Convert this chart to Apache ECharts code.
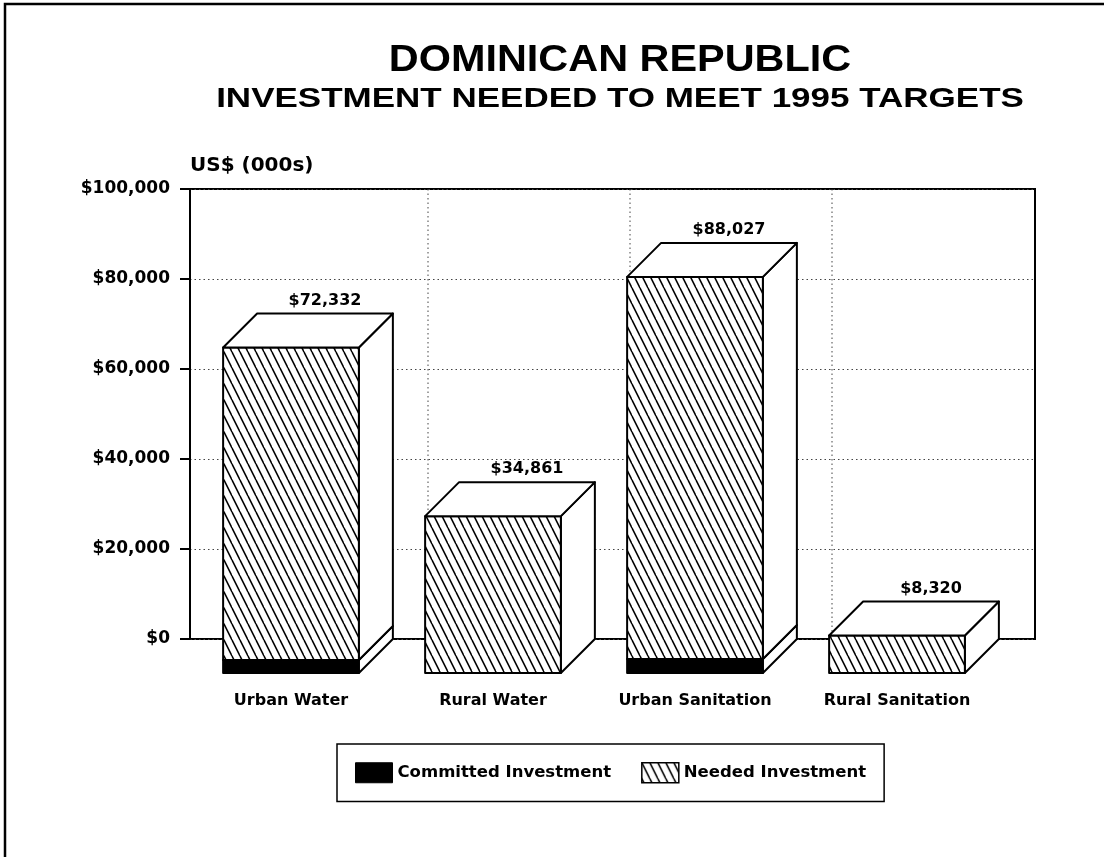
<!DOCTYPE html>
<html>
<head>
<meta charset="utf-8">
<script src="https://cdn.jsdelivr.net/npm/echarts@6/dist/echarts.min.js"></script>
<style>html,body{margin:0;padding:0;background:#fff;}#c{width:1104px;height:857px;}</style>
</head>
<body>
<div id="c"></div>
<script>
const categories = ['Urban Water', 'Rural Water', 'Urban Sanitation', 'Rural Sanitation'];
const committed = [2900, 0, 3100, 0];
const needed = [69432, 34861, 84927, 8320];
const yTicks = [0, 20000, 40000, 60000, 80000, 100000];

const DX = 34, DY = 34, DXG = 36;
const FONT = '"DejaVu Sans", sans-serif';

// hatch pattern "\\\"
const pc = document.createElement('canvas');
pc.width = 8; pc.height = 16;
const g = pc.getContext('2d');
g.fillStyle = '#fff'; g.fillRect(0, 0, 8, 16);
g.strokeStyle = '#000'; g.lineWidth = 1.6;
[-8, 0, 8].forEach(o => { g.beginPath(); g.moveTo(o, 0); g.lineTo(o + 8, 16); g.stroke(); });
const hatch = { image: pc, repeat: 'repeat' };

const fmt = v => '$' + Number(v).toLocaleString('en-US');

function boxRender(kind) {
  return function (params, api) {
    const i = api.value(0), base = api.value(1), val = api.value(2);
    if (!val) return { type: 'group', children: [] };
    const top = base + val;
    const c0 = api.coord([i, base]);
    const c1 = api.coord([i, top]);
    const bw = api.size([1, 0])[0];
    const hw = bw * 0.336;
    const x0 = c0[0] - hw, x1 = c0[0] + hw;
    const yb = c0[1] + DY, yt = c1[1] + DY;
    const edge = { stroke: '#000', lineWidth: 2, lineJoin: 'round' };
    const ch = [];
    ch.push({ type: 'polygon', shape: { points: [[x1, yt], [x1 + DX, yt - DY], [x1 + DX, yb - DY], [x1, yb]] },
      style: Object.assign({ fill: '#fff' }, edge) });
    ch.push({ type: 'rect', shape: { x: x0, y: yt, width: x1 - x0, height: yb - yt },
      style: Object.assign({ fill: kind === 'needed' ? hatch : '#000' }, edge) });
    if (kind === 'needed') {
      ch.push({ type: 'polygon', shape: { points: [[x0, yt], [x0 + DX, yt - DY], [x1 + DX, yt - DY], [x1, yt]] },
        style: Object.assign({ fill: '#fff' }, edge) });
      ch.push({ type: 'text', x: c0[0] + DX, y: c1[1] - 5,
        style: { text: fmt(top), font: 'bold 16px ' + FONT, align: 'center', verticalAlign: 'bottom', fill: '#000' } });
    }
    return { type: 'group', children: ch };
  };
}

function gridRender(params, api) {
  const i = api.value(0);
  if (i < 1) return { type: 'group', children: [] };
  const cTop = api.coord([i, yTicks[yTicks.length - 1]]);
  const cBot = api.coord([i, yTicks[0]]);
  const bw = api.size([1, 0])[0];
  const x = cTop[0] - bw / 2 + DXG;
  return { type: 'line', shape: { x1: x, y1: cTop[1], x2: x, y2: cBot[1] },
    style: { stroke: '#444', lineWidth: 1, lineDash: [1.5, 3] } };
}

const chart = echarts.init(document.getElementById('c'), null, { renderer: 'canvas' });
chart.setOption({
  backgroundColor: '#fff',
  animation: false,
  graphic: [
    { type: 'rect', shape: { x: 5, y: 4, width: 1300, height: 1000 }, style: { fill: 'none', stroke: '#000', lineWidth: 2.5 }, silent: true },
    { type: 'text', x: 620, y: 61, scaleX: 1.15,
      style: { text: 'DOMINICAN REPUBLIC', font: 'bold 36px "Liberation Sans", Arial, sans-serif', align: 'center', verticalAlign: 'middle', fill: '#000' } },
    { type: 'text', x: 620, y: 99, scaleX: 1.25,
      style: { text: 'INVESTMENT NEEDED TO MEET 1995 TARGETS', font: 'bold 28px "Liberation Sans", Arial, sans-serif', align: 'center', verticalAlign: 'middle', fill: '#000' } }
  ],
  legend: {
    left: 337, top: 744,
    orient: 'horizontal',
    padding: [18, 18, 18, 18],
    itemGap: 30,
    itemWidth: 37, itemHeight: 20,
    borderColor: '#000', borderWidth: 1.5,
    selectedMode: false,
    textStyle: { fontFamily: FONT, fontWeight: 'bold', fontSize: 16.5, color: '#000' },
    data: [
      { name: 'Committed Investment', icon: 'rect', itemStyle: { color: '#000', borderColor: '#000', borderWidth: 1 } },
      { name: 'Needed Investment', icon: 'rect', itemStyle: { color: hatch, borderColor: '#000', borderWidth: 1.5 } }
    ]
  },
  grid: [
    { left: 190, top: 189, width: 845, height: 450, show: true, borderColor: '#000', borderWidth: 2, backgroundColor: 'transparent' },
    { left: 190, top: 189, width: 808, height: 450 }
  ],
  xAxis: [
    { gridIndex: 0, type: 'value', min: 0, max: 1, show: false },
    { gridIndex: 1, type: 'category', data: categories, position: 'bottom', offset: DY,
      axisLine: { show: false },
      axisTick: { show: true, alignWithLabel: true, length: 8, lineStyle: { color: '#000', width: 1.5 } },
      axisLabel: { margin: 20, color: '#000', fontFamily: FONT, fontWeight: 'bold', fontSize: 16 },
      splitLine: { show: false } }
  ],
  yAxis: [
    { gridIndex: 0, type: 'value', min: yTicks[0], max: yTicks[yTicks.length - 1], interval: 20000,
      name: 'US$ (000s)', nameLocation: 'end', nameGap: 13,
      nameTextStyle: { align: 'left', verticalAlign: 'bottom', fontFamily: FONT, fontWeight: 'bold', fontSize: 20, color: '#000' },
      axisLine: { show: true, lineStyle: { color: '#000', width: 2 } },
      axisTick: { show: true, length: 10, lineStyle: { color: '#000', width: 2 } },
      axisLabel: { margin: 20, color: '#000', fontFamily: FONT, fontWeight: 'bold', fontSize: 17, formatter: fmt },
      splitLine: { show: true, lineStyle: { color: '#444', width: 1, type: [1.5, 3] } } },
    { gridIndex: 1, type: 'value', min: yTicks[0], max: yTicks[yTicks.length - 1], show: false }
  ],
  series: [
    { type: 'custom', name: 'gridlines', xAxisIndex: 1, yAxisIndex: 1, z: 1, silent: true,
      renderItem: gridRender, data: categories.map((c, i) => [i]), clip: false },
    { type: 'custom', name: 'Committed Investment', xAxisIndex: 1, yAxisIndex: 1, z: 3, clip: false,
      itemStyle: { color: '#000' },
      renderItem: boxRender('committed'),
      data: categories.map((c, i) => [i, 0, committed[i]]) },
    { type: 'custom', name: 'Needed Investment', xAxisIndex: 1, yAxisIndex: 1, z: 3, clip: false,
      itemStyle: { color: hatch },
      renderItem: boxRender('needed'),
      data: categories.map((c, i) => [i, committed[i], needed[i]]) }
  ]
});
</script>
</body>
</html>
